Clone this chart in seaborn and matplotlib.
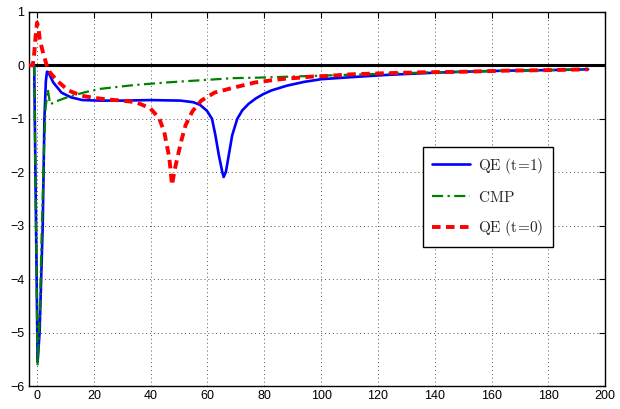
import numpy as np
import pandas as pd
import matplotlib
matplotlib.use("Agg")
import matplotlib.pyplot as plt
import seaborn as sns

# ---- data ----
qe1_x = [-1, 0.2, 0.9, 2.0, 2.6, 3.1, 3.5, 4.0, 5.7, 8.6, 12, 16, 22, 30, 40, 50.5,
         55.0, 57.4, 59.8, 61.6, 62.8, 64.0, 65.2, 65.7, 66.5, 67.5, 68.7, 70.5, 72.3,
         74.5, 77, 79.6, 82.5, 88, 94, 100, 111, 123, 139, 150, 165, 180, 194]
qe1_y = [0, -5.55, -5.0, -3.0, -1.0, -0.3, -0.12, -0.13, -0.32, -0.51, -0.60, -0.65,
         -0.66, -0.66, -0.65, -0.66, -0.69, -0.74, -0.85, -1.0, -1.31, -1.68, -1.99,
         -2.09, -1.99, -1.68, -1.31, -1.0, -0.84, -0.72, -0.62, -0.54, -0.47, -0.38,
         -0.31, -0.26, -0.22, -0.18, -0.14, -0.12, -0.10, -0.09, -0.075]

cmp_x = [-1, 0.2, 1.0, 1.7, 2.5, 3.0, 3.8, 4.6, 6.9, 10.5, 16.4, 22.3, 34, 45.7,
         57.5, 69, 78, 89.8, 102, 113.8, 128, 138.5, 150, 165, 180, 194]
cmp_y = [0, -5.62, -4.6, -3.0, -1.5, -0.8, -0.45, -0.73, -0.67, -0.60, -0.51, -0.44,
         -0.37, -0.32, -0.28, -0.24, -0.23, -0.21, -0.19, -0.17, -0.15, -0.13, -0.12,
         -0.10, -0.09, -0.075]

qe0_x = [-3, -1.5, -1, -0.5, 0, 0.5, 1.0, 2.2, 3.9, 6.9, 11, 15.7, 20.4, 25, 30,
         34.8, 39.8, 43.0, 44.8, 45.9, 46.5, 47.0, 47.5, 48.6, 49.8, 51.0, 52.3,
         54.7, 57.8, 62.5, 69, 76.8, 82.7, 87.4, 92.7, 97, 102, 110, 121, 136, 150,
         165, 180, 194]
qe0_y = [0, 0, 0.22, 0.55, 0.8, 0.7, 0.47, 0.22, -0.09, -0.28, -0.47, -0.57, -0.61,
         -0.64, -0.66, -0.69, -0.80, -0.99, -1.25, -1.55, -1.71, -1.95, -2.24, -1.92,
         -1.64, -1.37, -1.12, -0.86, -0.66, -0.51, -0.42, -0.32, -0.28, -0.25, -0.23,
         -0.21, -0.20, -0.17, -0.15, -0.13, -0.12, -0.10, -0.09, -0.075]

labels = [r"$\mathrm{QE\ (t\!=\!1)}$", r"$\mathrm{CMP}$", r"$\mathrm{QE\ (t\!=\!0)}$"]
x_ticks = list(range(0, 201, 20))
y_ticks = list(range(-6, 2))

# ---- style ----
sns.set_style("white")
plt.rcParams["font.family"] = ["Liberation Sans", "DejaVu Sans"]
plt.rcParams["mathtext.fontset"] = "cm"

fig = plt.figure(figsize=(6.2, 4.09), dpi=100)
ax = fig.add_axes([0.046, 0.056, 0.93, 0.915])

ax.axhline(0, color="black", lw=2.2, zorder=1)

df1 = pd.DataFrame({"x": qe1_x, "y": qe1_y})
df2 = pd.DataFrame({"x": cmp_x, "y": cmp_y})
df3 = pd.DataFrame({"x": qe0_x, "y": qe0_y})

sns.lineplot(data=df1, x="x", y="y", ax=ax, sort=False, estimator=None,
             color="#0000ff", lw=1.9, label=labels[0], zorder=3)
sns.lineplot(data=df2, x="x", y="y", ax=ax, sort=False, estimator=None,
             color="#008000", lw=1.6, label=labels[1], zorder=4)
sns.lineplot(data=df3, x="x", y="y", ax=ax, sort=False, estimator=None,
             color="#ff0000", lw=2.8, label=labels[2], zorder=5)
lines = ax.get_lines()
lines[2].set_dashes([5, 2, 1, 2])
lines[3].set_dashes([2.2, 1.4])

ax.set_xlim(-3, 200)
ax.set_ylim(-6, 1)
ax.set_xticks(x_ticks)
ax.set_yticks(y_ticks)
ax.set_xlabel("")
ax.set_ylabel("")
ax.grid(True, linestyle=(0, (1, 3)), color="#555555", lw=0.7)
ax.tick_params(direction="in", top=True, right=True, length=4, width=0.8,
               labelsize=9, colors="black", pad=3)
for s in ax.spines.values():
    s.set_color("black")
    s.set_linewidth(1.0)
    s.set_visible(True)

leg = ax.legend(loc="upper left", bbox_to_anchor=(0.684, 0.64), fontsize=11,
                frameon=True, fancybox=False, edgecolor="black", framealpha=1,
                handlelength=2.5, labelspacing=0.9, borderpad=0.6, handletextpad=0.5,
                borderaxespad=0)
leg.get_frame().set_linewidth(1.0)

fig.savefig("out.png", dpi=100)
